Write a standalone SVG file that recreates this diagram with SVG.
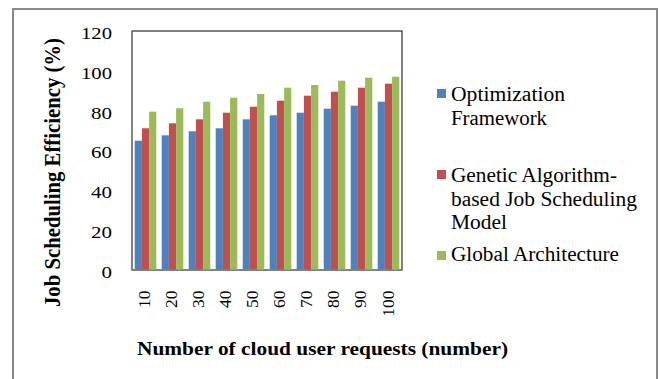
<svg xmlns="http://www.w3.org/2000/svg" width="660" height="379" viewBox="0 0 660 379">
<style>
.t{font-family:"Liberation Serif","Times New Roman",serif;fill:#000}
.tick{font-size:17px;text-anchor:end}
.xl{font-size:17.5px;text-anchor:end}
.lg{font-size:20px}
.b{font-weight:bold}
.s1{fill:#4F81BD}.s2{fill:#C0504D}.s3{fill:#9BBB59}
</style>
<rect width="660" height="379" fill="#fff"/>
<rect x="13" y="9" width="644" height="390" fill="none" stroke="#898989" stroke-width="2"/>
<g id="plot">
<rect x="132" y="31" width="270" height="239" fill="#fff" stroke="#000" stroke-width="1"/>
</g>
<g id="bars">
<g class="s1">
<rect x="134.7" y="140.7" width="7.2" height="129.3"/>
<rect x="161.7" y="135.3" width="7.2" height="134.7"/>
<rect x="188.7" y="131.3" width="7.2" height="138.7"/>
<rect x="215.7" y="128.3" width="7.2" height="141.7"/>
<rect x="242.7" y="119.3" width="7.2" height="150.7"/>
<rect x="269.7" y="115.3" width="7.2" height="154.7"/>
<rect x="296.7" y="112.7" width="7.2" height="157.3"/>
<rect x="323.7" y="108.7" width="7.2" height="161.3"/>
<rect x="350.7" y="105.7" width="7.2" height="164.3"/>
<rect x="377.7" y="101.7" width="7.2" height="168.3"/>
</g>
<g class="s2">
<rect x="141.9" y="128.3" width="7.2" height="141.7"/>
<rect x="168.9" y="123.3" width="7.2" height="146.7"/>
<rect x="195.9" y="119.3" width="7.2" height="150.7"/>
<rect x="222.9" y="112.7" width="7.2" height="157.3"/>
<rect x="249.9" y="106.7" width="7.2" height="163.3"/>
<rect x="276.9" y="100.7" width="7.2" height="169.3"/>
<rect x="303.9" y="95.7" width="7.2" height="174.3"/>
<rect x="330.9" y="91.7" width="7.2" height="178.3"/>
<rect x="357.9" y="87.7" width="7.2" height="182.3"/>
<rect x="384.9" y="83.7" width="7.2" height="186.3"/>
</g>
<g class="s3">
<rect x="149.1" y="111.7" width="7.2" height="158.3"/>
<rect x="176.1" y="108.3" width="7.2" height="161.7"/>
<rect x="203.1" y="101.7" width="7.2" height="168.3"/>
<rect x="230.1" y="97.7" width="7.2" height="172.3"/>
<rect x="257.1" y="94" width="7.2" height="176"/>
<rect x="284.1" y="87.7" width="7.2" height="182.3"/>
<rect x="311.1" y="85" width="7.2" height="185"/>
<rect x="338.1" y="80.7" width="7.2" height="189.3"/>
<rect x="365.1" y="77.7" width="7.2" height="192.3"/>
<rect x="392.1" y="76.7" width="7.2" height="193.3"/>
</g>
</g>
<g id="axes" stroke="#868686" stroke-width="1">
<line x1="132" y1="31" x2="132" y2="270.5"/>
<line x1="131.5" y1="270" x2="402.5" y2="270"/>
</g>
<g id="yticks" class="t tick">
<text x="112" y="39" textLength="31" lengthAdjust="spacingAndGlyphs">120</text>
<text x="112" y="78.8" textLength="31" lengthAdjust="spacingAndGlyphs">100</text>
<text x="112" y="118.6" textLength="21" lengthAdjust="spacingAndGlyphs">80</text>
<text x="112" y="158.4" textLength="21" lengthAdjust="spacingAndGlyphs">60</text>
<text x="112" y="198.3" textLength="21" lengthAdjust="spacingAndGlyphs">40</text>
<text x="112" y="238.1" textLength="21" lengthAdjust="spacingAndGlyphs">20</text>
<text x="112" y="278" textLength="10.5" lengthAdjust="spacingAndGlyphs">0</text>
</g>
<g id="xticks" class="t xl">
<text transform="translate(149.5,290.5) rotate(-90)">10</text>
<text transform="translate(176.5,290.5) rotate(-90)">20</text>
<text transform="translate(203.5,290.5) rotate(-90)">30</text>
<text transform="translate(230.5,290.5) rotate(-90)">40</text>
<text transform="translate(257.5,290.5) rotate(-90)">50</text>
<text transform="translate(284.5,290.5) rotate(-90)">60</text>
<text transform="translate(311.5,290.5) rotate(-90)">70</text>
<text transform="translate(338.5,290.5) rotate(-90)">80</text>
<text transform="translate(365.5,290.5) rotate(-90)">90</text>
<text transform="translate(393.5,290.5) rotate(-90)">100</text>
</g>
<g id="ytitle">
<text class="t b" font-size="20.5" text-anchor="middle" textLength="269" lengthAdjust="spacingAndGlyphs" transform="translate(60,172.5) scale(1.15,1) rotate(-90)">Job Scheduling Efficiency (%)</text>
</g>
<g id="xtitle">
<text class="t b" x="137" y="355" font-size="19.5" textLength="371" lengthAdjust="spacingAndGlyphs">Number of cloud user requests (number)</text>
</g>
<g id="legend">
<g id="leg1">
<rect class="s1" x="437" y="89" width="9" height="9"/>
<text class="t lg" x="451" y="100.5" textLength="114" lengthAdjust="spacingAndGlyphs">Optimization</text>
<text class="t lg" x="451" y="124.5" textLength="96" lengthAdjust="spacingAndGlyphs">Framework</text>
</g>
<g id="leg2">
<rect class="s2" x="437" y="170" width="9" height="9"/>
<text class="t lg" x="451" y="181.5" textLength="166" lengthAdjust="spacingAndGlyphs">Genetic Algorithm-</text>
<text class="t lg" x="451" y="205.5" textLength="186" lengthAdjust="spacingAndGlyphs">based Job Scheduling</text>
<text class="t lg" x="451" y="229" textLength="56" lengthAdjust="spacingAndGlyphs">Model</text>
</g>
<g id="leg3">
<rect class="s3" x="437" y="251" width="9" height="9"/>
<text class="t lg" x="451" y="261" textLength="168" lengthAdjust="spacingAndGlyphs">Global Architecture</text>
</g>
</g>
</svg>
